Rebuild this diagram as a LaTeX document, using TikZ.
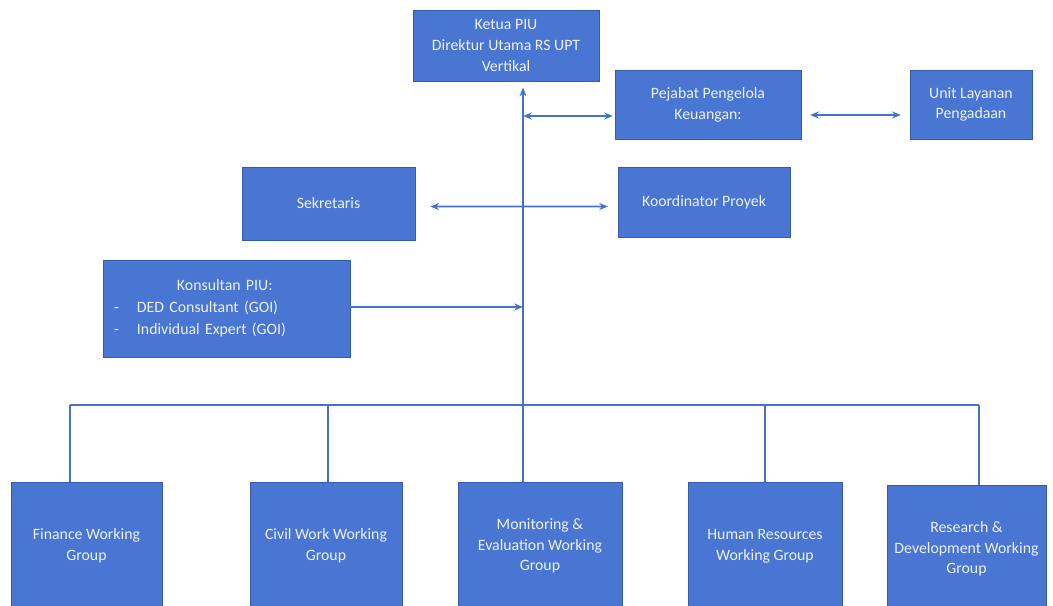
\documentclass[tikz,border=0pt]{standalone}
\usepackage{fontspec}
\setmainfont{Carlito}
\usetikzlibrary{arrows.meta}
\definecolor{boxFill}{RGB}{72,118,210}
\definecolor{boxEdge}{RGB}{52,90,170}
\definecolor{boxText}{RGB}{236,240,250}
\definecolor{lineBlue}{RGB}{68,114,200}

\begin{document}
\begin{tikzpicture}
  [unitN/.style={rectangle,draw=boxEdge,line width=0.4pt,fill=boxFill,text=boxText,
                 align=center,font=\fontsize{9}{11.8}\selectfont,inner sep=2pt},
   wgN/.style={unitN,minimum height=2.56cm},
   link/.style={draw=lineBlue,line width=0.95pt},
   >={Stealth[length=5pt,width=4pt]}]

  \useasboundingbox (0,0) rectangle (21.06,-12.12);

  % top level
  \node at (10.12,-0.91) [unitN,minimum width=3.72cm,minimum height=1.42cm] (ketua)
        {Ketua PIU\\Direktur Utama RS UPT\\Vertikal};
  \node at (14.16,-2.09) [unitN,minimum width=3.72cm,minimum height=1.38cm] (pejabat)
        {Pejabat Pengelola\\Keuangan:};
  \node at (19.42,-2.09) [unitN,minimum width=2.44cm,minimum height=1.38cm] (unit)
        {Unit Layanan\\Pengadaan};
  \node at (6.57,-4.07)  [unitN,minimum width=3.46cm,minimum height=1.46cm] (sekretaris)
        {Sekretaris};
  \node at (14.08,-4.05) [unitN,minimum width=3.44cm,minimum height=1.40cm] (koordinator)
        {Koordinator Proyek};
  \node at (4.53,-6.17)  [unitN,minimum width=4.94cm,minimum height=1.94cm,
                          text width=4.5cm,inner xsep=0.22cm,align=left,
                          font=\fontsize{9}{12.6}\selectfont] (konsultan)
        {\hspace*{1.26cm}Konsultan PIU:\\
         \makebox[0.46cm][l]{-}DED Consultant (GOI)\\
         \makebox[0.46cm][l]{-}Individual Expert (GOI)};

  % working groups
  \node at (1.73,-10.92)  [wgN,minimum width=3.02cm] (finance)    {Finance Working\\Group};
  \node at (6.52,-10.92)  [wgN,minimum width=3.04cm] (civil)      {Civil Work Working\\Group};
  \node at (10.80,-10.92) [wgN,minimum width=3.28cm] (monitoring) {Monitoring \&\\Evaluation Working\\Group};
  \node at (15.30,-10.92) [wgN,minimum width=3.08cm] (human)      {Human Resources\\Working Group};
  \node at (19.33,-10.98) [wgN,minimum width=3.18cm] (research)   {Research \&\\Development Working\\Group};

  % bus and spine
  \coordinate (busL)   at (1.40,-8.10);
  \coordinate (busC)   at (6.56,-8.10);
  \coordinate (spineB) at (10.46,-8.10);
  \coordinate (busH)   at (15.30,-8.10);
  \coordinate (busR)   at (19.58,-8.10);
  \coordinate (pjL)    at (10.46,-2.32);

  \draw [link] (busL) -- (busR);
  \draw [link,->,shorten >=3.5pt] (spineB) -- (spineB |- ketua.south);
  \draw [link] (busL) -- (busL |- finance.north);
  \draw [link] (busC) -- (busC |- civil.north);
  \draw [link] (spineB) -- (spineB |- monitoring.north);
  \draw [link] (busH) -- (busH |- human.north);
  \draw [link] (busR) -- (busR |- research.north);

  \draw [link,<->,shorten >=1pt] (pjL) -- (pjL -| pejabat.west);
  \draw [link,<->,shorten <=5pt,shorten >=5pt]
        ([yshift=-0.21cm]pejabat.east) -- ([yshift=-0.21cm]unit.west);
  \draw [link,<->,shorten <=8.5pt,shorten >=5.5pt]
        ([yshift=-0.06cm]sekretaris.east) -- ([yshift=-0.08cm]koordinator.west);
  \draw [link,->] ([yshift=0.03cm]konsultan.east) -- ([yshift=0.03cm]konsultan.east -| spineB);
\end{tikzpicture}
\end{document}
